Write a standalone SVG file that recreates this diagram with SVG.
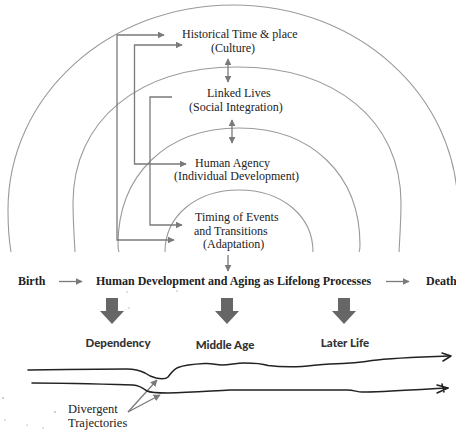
<svg xmlns="http://www.w3.org/2000/svg" width="456" height="431" viewBox="0 0 456 431">
<style>
.arc{fill:none;stroke:#9a9a9a;stroke-width:1.1}
.con{fill:none;stroke:#7a7a7a;stroke-width:1.3}
.t{font-family:"Liberation Serif","Times New Roman",serif;font-size:12px;fill:#222}
.tb{font-family:"Liberation Serif","Times New Roman",serif;font-size:12px;font-weight:bold;fill:#222}
.s{font-family:Lato,"Liberation Sans",sans-serif;font-size:11.5px;font-weight:900;fill:#333}
.hand{fill:none;stroke:#222;stroke-width:1.5;stroke-linecap:round;stroke-linejoin:round}
.big{fill:#666}
</style>
<defs>
<marker id="ah" viewBox="0 0 10 10" refX="9" refY="5" markerWidth="7" markerHeight="7" markerUnits="userSpaceOnUse" orient="auto-start-reverse">
<path d="M0,0 L10,5 L0,10 Z" fill="#7a7a7a"/>
</marker>
</defs>
<g id="arcs">
<path class="arc" d="M11,252 C9,240 8,225 8,210 C8,95 109,5 233,5 C357,5 458,95 458,210"/>
<path class="arc" d="M75,252 C74,235 73,218 73,203 C73,120 139,67 237,67 C335,67 401,120 401,203 C401,218 400,235 399,252"/>
<path class="arc" d="M119,252 C118,250 118,248 118,245 C118,175 166,128 239,128 C312,128 360,175 360,245 C360,248 360,250 359,252"/>
<path class="arc" d="M165,252 C165,216 196,190 239,190 C282,190 313,216 313,252"/>
</g>
<g id="connectors">
<path class="con" d="M174,240 H117 V35 H164" marker-start="url(#ah)" marker-end="url(#ah)"/>
<path class="con" d="M182,45 H134.5 V164 H186" marker-start="url(#ah)" marker-end="url(#ah)"/>
<path class="con" d="M172,97 H150 V225 H182" marker-end="url(#ah)" marker-start="none"/>
<path class="con" d="M228,59 V82" marker-start="url(#ah)" marker-end="url(#ah)"/>
<path class="con" d="M232,120 V143" marker-start="url(#ah)" marker-end="url(#ah)"/>
<path class="con" d="M228,255 V271" marker-end="url(#ah)"/>
<path class="con" d="M59,281.5 H82" marker-end="url(#ah)"/>
<path class="con" d="M386,281.5 H409" marker-end="url(#ah)"/>
<path class="con" d="M128,412 L157,380" marker-end="url(#ah)"/>
<path class="con" d="M128,412 L160,395" marker-end="url(#ah)"/>
</g>
<g id="n-historical">
<text class="t" x="182" y="38">Historical Time &amp; place</text>
<text class="t" x="211" y="52">(Culture)</text>
</g>
<g id="n-linked">
<text class="t" x="207" y="97">Linked Lives</text>
<text class="t" x="189" y="111">(Social Integration)</text>
</g>
<g id="n-agency">
<text class="t" x="195" y="167">Human Agency</text>
<text class="t" x="174" y="179.5">(Individual Development)</text>
</g>
<g id="n-timing">
<text class="t" x="195" y="221">Timing of Events</text>
<text class="t" x="194" y="234.5">and Transitions</text>
<text class="t" x="203" y="248">(Adaptation)</text>
</g>
<g id="n-process">
<text class="tb" x="18" y="285">Birth</text>
<text class="tb" x="96" y="285">Human Development and Aging as Lifelong Processes</text>
<text class="tb" x="426" y="285">Death</text>
</g>
<g id="stages">
<path class="big" d="M106,298 H118 V311 H124 L112,324 L100,311 H106 Z"/>
<path class="big" d="M221,298 H233 V311 H239 L227,324 L215,311 H221 Z"/>
<path class="big" d="M338,298 H350 V311 H356 L344,324 L332,311 H338 Z"/>
<text class="s" x="118" y="347" text-anchor="middle">Dependency</text>
<text class="s" x="225" y="349" text-anchor="middle">Middle Age</text>
<text class="s" x="345" y="347" text-anchor="middle">Later Life</text>
</g>
<g id="trajectories">
<path class="hand" d="M28,370 C60,369.5 100,369 127,369 C136,369 141,371 145,373 C149,376 152,377 156,378 C161,379 166,379 168,377 C171,373 174,369 178,367.5 C184,365 195,364 205,363.5 C212,363 216,365 222,365 C230,365 236,363 244,363 C252,363 262,363.5 268,365.5 C280,367 292,367 302,366.5 C312,366 318,364.5 330,364 C345,363.5 358,363 372,360.5 C390,358 420,357 450,356"/>
<path class="hand" d="M442,353 L451,356 L443,361"/>
<path class="hand" d="M32,383 C60,383 100,384 133,385 C140,385.5 143,388 147,391 C151,393 158,393 168,393 C190,392.5 210,391 230,390 C280,390 320,390 347,390 C354,390 357,392 362,392 C380,392 410,390 448,388"/>
<path class="hand" d="M437,385 L448,388 L437,393 M442,384 L444,392"/>
<text class="t" x="68" y="413" style="font-size:12.5px">Divergent</text>
<text class="t" x="68" y="427" style="font-size:12.5px">Trajectories</text>
</g>
<g id="specks" fill="#777">
<circle cx="3" cy="398" r="0.7"/>
<circle cx="55" cy="412" r="0.7"/>
<circle cx="5" cy="420" r="0.6"/>
<circle cx="27" cy="425" r="0.6"/>
<circle cx="43" cy="428" r="0.6"/>
<circle cx="127" cy="292" r="0.6"/>
<circle cx="177" cy="291" r="0.6"/>
<circle cx="129" cy="308" r="0.6"/>
</g>
</svg>
